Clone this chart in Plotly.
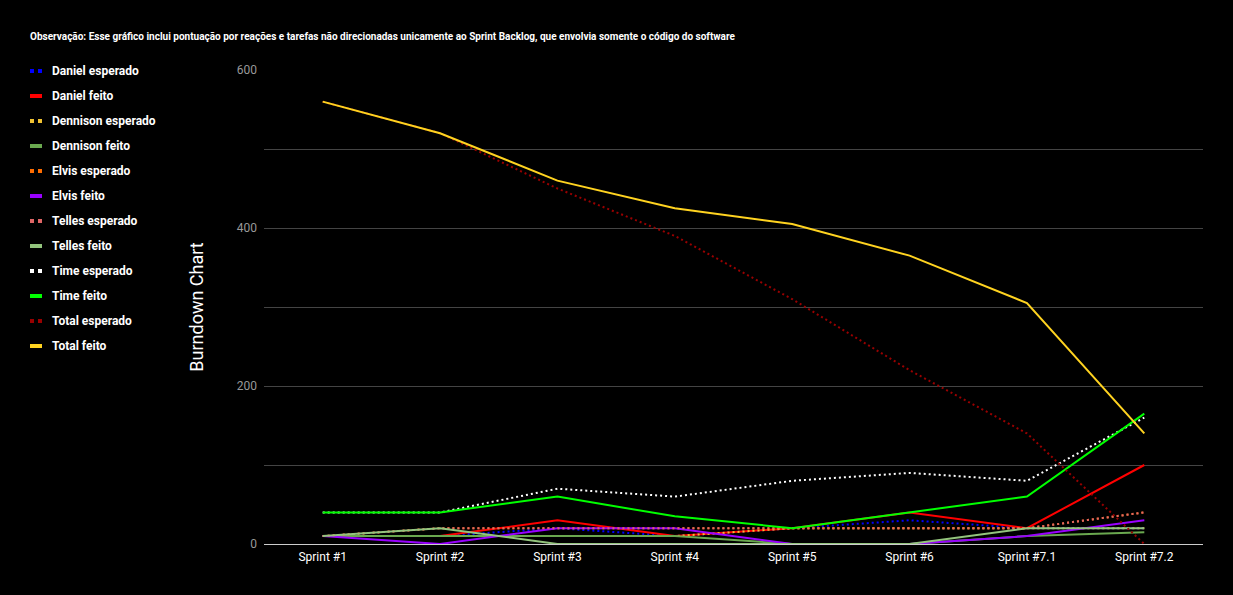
import plotly.graph_objects as go

sprints = ["Sprint #1", "Sprint #2", "Sprint #3", "Sprint #4", "Sprint #5", "Sprint #6", "Sprint #7.1", "Sprint #7.2"]

daniel_esperado = [10, 10, 20, 10, 20, 30, 20, 20]
daniel_feito = [10, 10, 30, 10, 20, 40, 20, 100]
dennison_esperado = [10, 10, 10, 10, 20, 20, 20, 20]
dennison_feito = [10, 10, 10, 10, 0, 0, 10, 15]
elvis_esperado = [10, 20, 20, 20, 20, 20, 20, 40]
elvis_feito = [10, 0, 20, 20, 0, 0, 10, 30]
telles_esperado = [10, 20, 20, 20, 20, 20, 20, 40]
telles_feito = [10, 20, 0, 0, 0, 0, 20, 20]
time_esperado = [40, 40, 70, 60, 80, 90, 80, 160]
time_feito = [40, 40, 60, 35, 20, 40, 60, 165]
total_esperado = [560, 520, 450, 390, 310, 220, 140, 0]
total_feito = [560, 520, 460, 425, 405, 365, 305, 140]

series = [
    ("Daniel esperado", daniel_esperado, "#0000ff", True),
    ("Daniel feito", daniel_feito, "#ff0000", False),
    ("Dennison esperado", dennison_esperado, "#f1c232", True),
    ("Dennison feito", dennison_feito, "#6aa84f", False),
    ("Elvis esperado", elvis_esperado, "#ff6d01", True),
    ("Elvis feito", elvis_feito, "#9900ff", False),
    ("Telles esperado", telles_esperado, "#e06666", True),
    ("Telles feito", telles_feito, "#93c47d", False),
    ("Time esperado", time_esperado, "#ffffff", True),
    ("Time feito", time_feito, "#00ff00", False),
    ("Total esperado", total_esperado, "#990000", True),
    ("Total feito", total_feito, "#ffd320", False),
]

W, H = 1233, 595
ML, MR, MT, MB = 264, 30, 70, 51
PW, PH = W - ML - MR, H - MT - MB


def px_x(px):
    return (px - ML) / PW


def px_y(py):
    return 1 - (py - MT) / PH


fig = go.Figure()
shapes = []
annotations = []
for i, (name, vals, color, dotted) in enumerate(series):
    fig.add_trace(go.Scatter(
        x=sprints, y=vals, name=name, mode="lines", showlegend=False,
        line=dict(color=color, width=2, dash="2px,3px" if dotted else "solid"),
    ))
    cy = 71 + 25 * i
    if dotted:
        for x0 in (30, 38):
            shapes.append(dict(type="rect", xref="paper", yref="paper",
                               x0=px_x(x0), x1=px_x(x0 + 4), y0=px_y(cy + 2), y1=px_y(cy - 2),
                               fillcolor=color, line=dict(width=0)))
    else:
        shapes.append(dict(type="rect", xref="paper", yref="paper",
                           x0=px_x(30), x1=px_x(42), y0=px_y(cy + 2), y1=px_y(cy - 2),
                           fillcolor=color, line=dict(width=0)))
    annotations.append(dict(text=f"<b>{name}</b>", xref="paper", yref="paper",
                            x=px_x(50), y=px_y(cy), xanchor="left", yanchor="middle",
                            showarrow=False, font=dict(family="Roboto", size=12, color="#ffffff")))

fig.update_layout(
    width=W, height=H,
    paper_bgcolor="#000000", plot_bgcolor="#000000",
    font=dict(family="Roboto", color="#ffffff", size=12),
    margin=dict(l=ML, r=MR, t=MT, b=MB),
    title=dict(
        text="<b>Observação: Esse gráfico inclui pontuação por reações e tarefas não direcionadas unicamente ao Sprint Backlog, que envolvia somente o código do software</b>",
        font=dict(family="Roboto", size=10, color="#ffffff"),
        x=30 / W, xanchor="left", xref="container",
        y=1 - 36 / H, yanchor="middle", yref="container",
    ),
    shapes=shapes,
    annotations=annotations,
    showlegend=False,
)
fig.update_xaxes(
    type="category", range=[-0.5, 7.5], showgrid=False, zeroline=False,
    showline=False, ticks="", tickfont=dict(color="#ffffff", size=12),
    ticklabelstandoff=4,
)
fig.update_yaxes(
    range=[0, 600], dtick=200, tick0=0, showgrid=True, gridcolor="#444444", gridwidth=1,
    minor=dict(dtick=100, showgrid=True, gridcolor="#444444"),
    zeroline=True, zerolinecolor="#cccccc", zerolinewidth=1,
    tickfont=dict(color="#999999", size=12), ticks="", ticklabelstandoff=6,
    title=dict(text="Burndown Chart", font=dict(size=18, color="#ffffff"), standoff=28),
)

fig.write_html("out.html")
